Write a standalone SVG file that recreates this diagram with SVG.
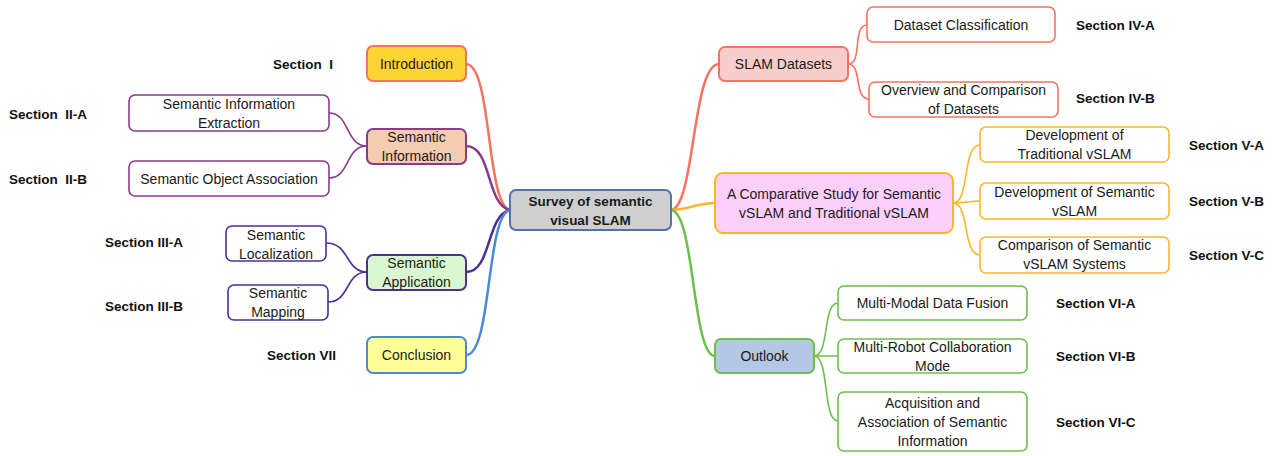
<svg xmlns="http://www.w3.org/2000/svg" width="1278" height="456" viewBox="0 0 1278 456">
<style>
text{font-family:"Liberation Sans",Arial,sans-serif;font-size:14px;fill:#1a1a1a;text-anchor:middle}
.sec{font-weight:bold;font-size:13.5px;text-anchor:start;white-space:pre;fill:#111}
.ctr{font-weight:bold;font-size:13.5px}
.c{fill:none;stroke-linecap:round}
.m{stroke-width:2.5}
.s{stroke-width:1.6}
rect{stroke-width:2}
.sub{fill:#fff;stroke-width:1.6}
</style>
<rect width="1278" height="456" fill="#fff"/>
<g id="connectors">
<path class="c m" stroke="#f8735f" d="M466,64 C492,64 486,205 510,210"/>
<path class="c m" stroke="#8b3a8b" d="M466,146 C492,146 486,205 510,210"/>
<path class="c m" stroke="#4e2f96" d="M466,272 C492,272 486,215 510,210"/>
<path class="c m" stroke="#4a8ad6" d="M466,355 C492,355 486,215 510,210"/>
<path class="c s" stroke="#8b3a8b" d="M329,113 C350,113 345,146 367,146"/>
<path class="c s" stroke="#8b3a8b" d="M329,178 C350,178 345,146 367,146"/>
<path class="c s" stroke="#4e2f96" d="M326,243 C350,243 345,272 367,272"/>
<path class="c s" stroke="#4e2f96" d="M328,302 C350,302 345,272 367,272"/>
<path class="c m" stroke="#f8735f" d="M671,210 C695,208 692,64 719,64"/>
<path class="c m" stroke="#fbb62a" d="M671,210 C690,210 695,203 715,203"/>
<path class="c m" stroke="#6cc04a" d="M671,210 C695,212 692,356 715,356"/>
<path class="c s" stroke="#f8735f" d="M848,64 C863,64 852,25 867,25"/>
<path class="c s" stroke="#f8735f" d="M848,64 C863,64 853,99 869,99"/>
<path class="c s" stroke="#fbb62a" d="M953,203 C970,203 962,145 980,145"/>
<path class="c s" stroke="#fbb62a" d="M953,203 C966,203 968,201 980,201"/>
<path class="c s" stroke="#fbb62a" d="M953,203 C970,203 962,255 980,255"/>
<path class="c s" stroke="#6cc04a" d="M814,356 C830,356 822,303 838,303"/>
<path class="c s" stroke="#6cc04a" d="M814,356 C826,356 828,356 838,356"/>
<path class="c s" stroke="#6cc04a" d="M814,356 C830,356 822,421 838,421"/>
</g>
<g id="center">
<rect x="510" y="190" width="161" height="40" rx="6" fill="#cfcfcf" stroke="#4f74a8"/>
<text class="ctr" x="590.5" y="206">Survey of semantic</text>
<text class="ctr" x="590.5" y="225">visual SLAM</text>
</g>
<g id="introduction">
<rect x="367" y="46" width="99" height="35" rx="6" fill="#fcd535" stroke="#f8735f"/>
<text x="416.5" y="69">Introduction</text>
<text class="sec" x="273" y="69">Section  I</text>
</g>
<g id="semantic-information">
<rect x="367" y="129" width="99" height="35" rx="6" fill="#f4ccb0" stroke="#8b3a8b"/>
<text x="416.5" y="142">Semantic</text>
<text x="416.5" y="161">Information</text>
</g>
<g id="sem-info-extraction">
<rect class="sub" x="129" y="95" width="200" height="36" rx="6" stroke="#8b3a8b"/>
<text x="229" y="109">Semantic Information</text>
<text x="229" y="128">Extraction</text>
<text class="sec" x="9" y="119">Section  II-A</text>
</g>
<g id="sem-object-association">
<rect class="sub" x="129" y="161" width="200" height="35" rx="6" stroke="#8b3a8b"/>
<text x="229" y="184">Semantic Object Association</text>
<text class="sec" x="9" y="184">Section  II-B</text>
</g>
<g id="semantic-application">
<rect x="367" y="255" width="99" height="35" rx="6" fill="#d9f7d0" stroke="#4e2f96"/>
<text x="416.5" y="268">Semantic</text>
<text x="416.5" y="287">Application</text>
</g>
<g id="sem-localization">
<rect class="sub" x="226" y="226" width="100" height="35" rx="6" stroke="#4e2f96"/>
<text x="276" y="240">Semantic</text>
<text x="276" y="259">Localization</text>
<text class="sec" x="105" y="247">Section III-A</text>
</g>
<g id="sem-mapping">
<rect class="sub" x="228" y="285" width="100" height="35" rx="6" stroke="#4e2f96"/>
<text x="278" y="298">Semantic</text>
<text x="278" y="317">Mapping</text>
<text class="sec" x="105" y="311">Section III-B</text>
</g>
<g id="conclusion">
<rect x="367" y="337" width="99" height="36" rx="6" fill="#ffff99" stroke="#4a8ad6"/>
<text x="416.5" y="360">Conclusion</text>
<text class="sec" x="267" y="360">Section VII</text>
</g>
<g id="slam-datasets">
<rect x="719" y="47" width="129" height="34" rx="6" fill="#f8cecc" stroke="#f8735f"/>
<text x="783.5" y="69">SLAM Datasets</text>
</g>
<g id="dataset-classification">
<rect class="sub" x="867" y="7" width="188" height="35" rx="6" stroke="#f8735f"/>
<text x="961" y="30">Dataset Classification</text>
<text class="sec" x="1076" y="30">Section IV-A</text>
</g>
<g id="overview-datasets">
<rect class="sub" x="869" y="82" width="189" height="35" rx="6" stroke="#f8735f"/>
<text x="963.5" y="95">Overview and Comparison</text>
<text x="963.5" y="114">of Datasets</text>
<text class="sec" x="1076" y="103">Section IV-B</text>
</g>
<g id="comparative-study">
<rect x="715" y="173" width="238" height="60" rx="8" fill="#fdd0fb" stroke="#fbb62a"/>
<text x="834" y="199">A Comparative Study for Semantic</text>
<text x="834" y="218">vSLAM and Traditional vSLAM</text>
</g>
<g id="dev-traditional">
<rect class="sub" x="980" y="127" width="189" height="35" rx="6" stroke="#fbb62a"/>
<text x="1074.5" y="140">Development of</text>
<text x="1074.5" y="159">Traditional vSLAM</text>
<text class="sec" x="1189" y="150">Section V-A</text>
</g>
<g id="dev-semantic">
<rect class="sub" x="980" y="183" width="189" height="36" rx="6" stroke="#fbb62a"/>
<text x="1074.5" y="197">Development of Semantic</text>
<text x="1074.5" y="216">vSLAM</text>
<text class="sec" x="1189" y="206">Section V-B</text>
</g>
<g id="comparison-systems">
<rect class="sub" x="980" y="237" width="189" height="36" rx="6" stroke="#fbb62a"/>
<text x="1074.5" y="250">Comparison of Semantic</text>
<text x="1074.5" y="269">vSLAM Systems</text>
<text class="sec" x="1189" y="260">Section V-C</text>
</g>
<g id="outlook">
<rect x="715" y="339" width="99" height="34" rx="6" fill="#b4c7e7" stroke="#6cc04a"/>
<text x="764.5" y="361">Outlook</text>
</g>
<g id="multi-modal">
<rect class="sub" x="838" y="286" width="189" height="34" rx="6" stroke="#6cc04a"/>
<text x="932.5" y="308">Multi-Modal Data Fusion</text>
<text class="sec" x="1056" y="308">Section VI-A</text>
</g>
<g id="multi-robot">
<rect class="sub" x="838" y="339" width="189" height="34" rx="6" stroke="#6cc04a"/>
<text x="932.5" y="352">Multi-Robot Collaboration</text>
<text x="932.5" y="371">Mode</text>
<text class="sec" x="1056" y="361">Section VI-B</text>
</g>
<g id="acquisition">
<rect class="sub" x="838" y="392" width="189" height="59" rx="6" stroke="#6cc04a"/>
<text x="932.5" y="408">Acquisition and</text>
<text x="932.5" y="427">Association of Semantic</text>
<text x="932.5" y="446">Information</text>
<text class="sec" x="1056" y="427">Section VI-C</text>
</g>
</svg>
